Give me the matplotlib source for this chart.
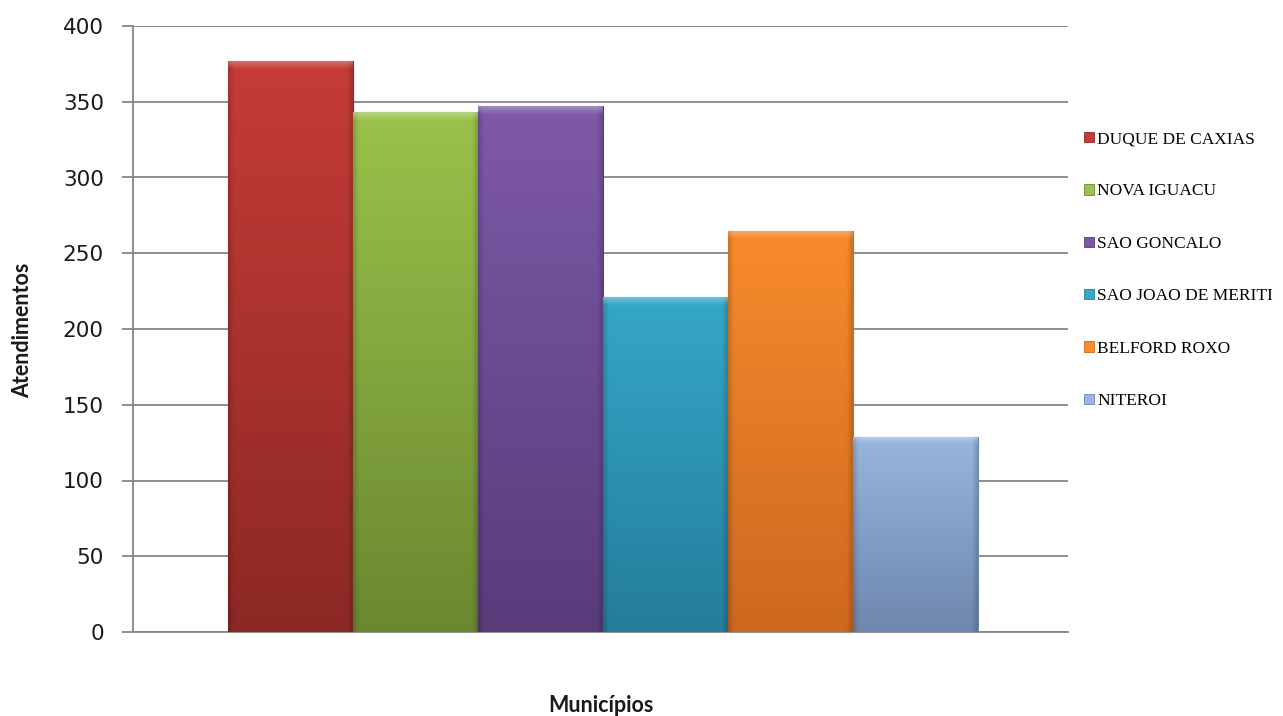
import numpy as np
import matplotlib
matplotlib.use("Agg")
import matplotlib.pyplot as plt
from matplotlib.colors import to_rgb
from matplotlib.patches import Patch

# Atendimentos por município
municipios = ["DUQUE DE CAXIAS", "NOVA IGUACU", "SAO GONCALO",
              "SAO JOAO DE MERITI", "BELFORD ROXO", "NITEROI"]
atendimentos = [377, 343, 347, 221, 265, 129]
y_ticks = [0, 50, 100, 150, 200, 250, 300, 350, 400]

top_colors = ["#C63C37", "#9BC24B", "#7E59A8", "#35A7C8", "#F88B2C", "#97B6E0"]
bottom_colors = ["#8C2824", "#6A8830", "#583C7A", "#247D9B", "#CC681F", "#6E87AD"]

W, H = 1283, 716
fig = plt.figure(figsize=(W / 100, H / 100), dpi=100)
ax = fig.add_axes([133 / W, (H - 632) / H, 935 / W, 606 / H])

grid_col = "#868686"
ax.set_axisbelow(True)
ax.yaxis.grid(True, color=grid_col, linewidth=1.3)
for side in ("top", "right"):
    ax.spines[side].set_visible(False)
for side in ("left", "bottom"):
    ax.spines[side].set_color(grid_col)
    ax.spines[side].set_linewidth(1.3)

px_per_unit = 606 / 400.0
for i, (v, tc, bc) in enumerate(zip(atendimentos, top_colors, bottom_colors)):
    bar = ax.bar(i, v, width=1.0, align="edge", color=tc,
                 edgecolor=bc, linewidth=0.8, zorder=3)[0]
    n, m = 400, 60
    t = np.linspace(0, 1, n)[:, None, None]
    c_top = np.array(to_rgb(tc))
    c_bot = np.array(to_rgb(bc))
    img = c_top * (1 - t) + c_bot * t
    img = np.repeat(img, m, axis=1)
    # darker side edges
    s = np.linspace(0, 1, m)
    edge = np.clip(np.minimum(s, 1 - s) / 0.04, 0, 1)
    shade = 0.84 + 0.16 * edge
    img = img * shade[None, :, None]
    # soft light bevel along the top
    bevel = 8.0 / (v * px_per_unit)
    r = np.linspace(0, 1, n)
    glow = np.clip(1 - r / bevel, 0, 1) * 0.3
    img = img * (1 - glow[:, None, None]) + glow[:, None, None]
    im = ax.imshow(img, extent=[i, i + 1, 0, v], aspect="auto",
                   origin="upper", zorder=3, interpolation="bilinear")
    im.set_clip_path(bar)

ax.set_xlim(-0.76, 6.72)
ax.set_ylim(0, 400)
ax.set_xticks([])
ax.set_yticks(y_ticks)
ax.tick_params(axis="y", direction="out", length=8, width=1.3,
               color=grid_col, pad=13, labelsize=15.5, labelcolor="#1a1a1a")

handles = [Patch(facecolor=tc, edgecolor=bc, linewidth=0.6)
           for tc, bc in zip(top_colors, bottom_colors)]
fig.legend(handles, municipios, loc="upper left",
           bbox_to_anchor=(1084 / W, 1 - 131 / H), frameon=False,
           prop={"family": "Liberation Serif", "size": 12.5},
           handlelength=0.55, handleheight=0.55, handletextpad=0.2,
           labelspacing=2.1, borderpad=0, borderaxespad=0)

fig.text(23 / W, 1 - 330 / H, "Atendimentos", rotation=90, ha="center",
         va="center", family="Lato", fontweight="bold", fontsize=15.5,
         color="#1a1a1a")
fig.text(601 / W, 1 - 705 / H, "Municípios", ha="center", va="center",
         family="Lato", fontweight="bold", fontsize=15.5, color="#1a1a1a")

fig.savefig("out.png", dpi=100)
